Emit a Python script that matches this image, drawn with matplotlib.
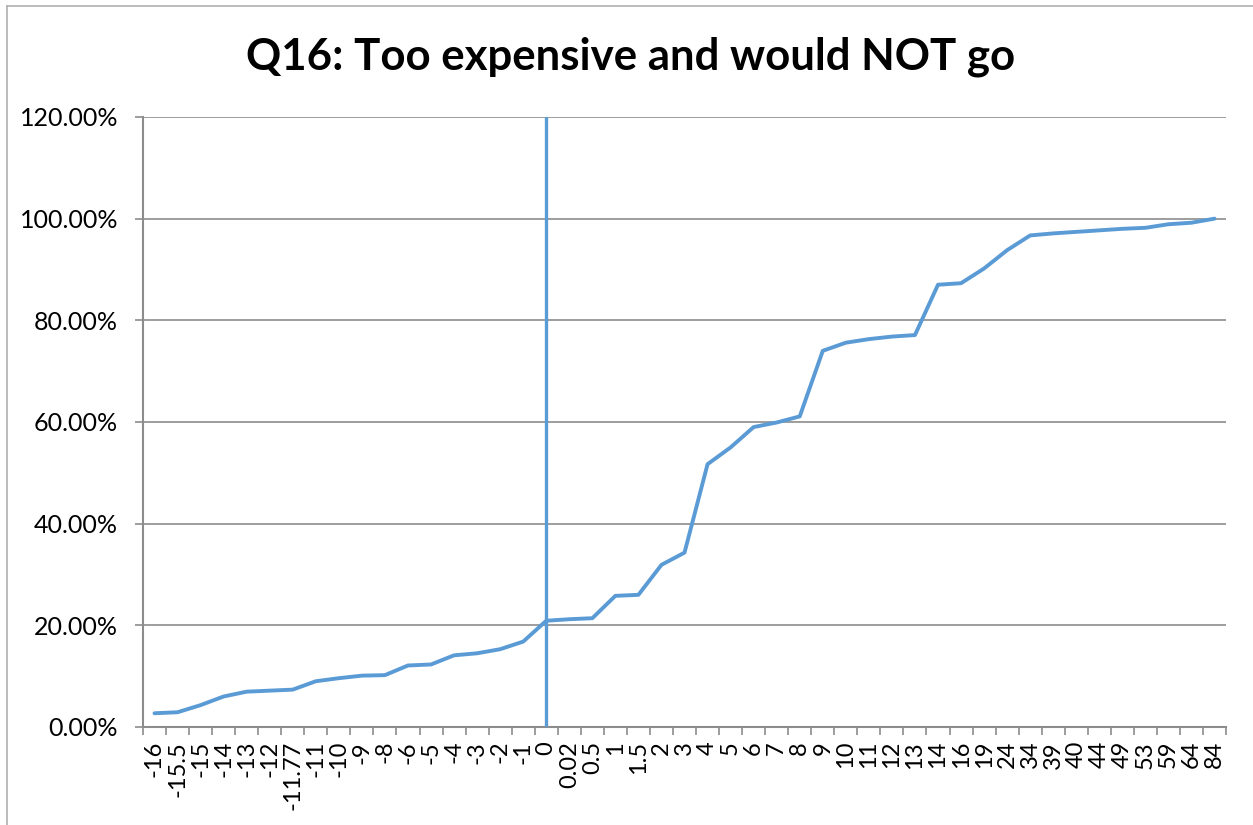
import matplotlib.pyplot as plt
import matplotlib.lines as mlines
import numpy as np
from matplotlib.ticker import FuncFormatter, MultipleLocator

categories = ['-16', '-15.5', '-15', '-14', '-13', '-12', '-11.77', '-11', '-10', '-9',
              '-8', '-6', '-5', '-4', '-3', '-2', '-1', '0', '0.02', '0.5',
              '1', '1.5', '2', '3', '4', '5', '6', '7', '8', '9',
              '10', '11', '12', '13', '14', '16', '19', '24', '34', '39',
              '40', '44', '49', '53', '59', '64', '84']
cum_pct = [2.7, 2.9, 4.3, 6.0, 6.95, 7.15, 7.35, 9.0, 9.6, 10.1,
           10.2, 12.1, 12.3, 14.1, 14.5, 15.3, 16.8, 20.9, 21.2, 21.4,
           25.8, 26.0, 31.9, 34.3, 51.7, 55.0, 59.0, 59.9, 61.1, 74.0,
           75.6, 76.3, 76.8, 77.1, 87.0, 87.3, 90.2, 93.8, 96.7, 97.1,
           97.4, 97.7, 98.0, 98.2, 98.9, 99.2, 100.0]
marker_cat = '0'

blue = '#5B9BD5'
grey = '#8c8c8c'

plt.rcParams['font.family'] = ['Lato', 'DejaVu Sans']

fig = plt.figure(figsize=(12.53, 8.25), dpi=100)
ax = fig.add_axes([0.1141, 0.1188, 0.8644, 0.7394])

x = np.arange(len(categories))
ax.plot(x, cum_pct, color=blue, lw=2.8, solid_capstyle='round', zorder=3)
ax.axvline(categories.index(marker_cat), color=blue, lw=2.4, zorder=3)

ax.set_xlim(-0.5, len(categories) - 0.5)
ax.set_ylim(0, 120)
ax.yaxis.set_major_locator(MultipleLocator(20))
ax.yaxis.set_major_formatter(FuncFormatter(lambda v, p: f'{v:.2f}%'))
ax.grid(axis='y', color=grey, lw=1.2, zorder=0)

ax.set_xticks(x)
ax.set_xticklabels(categories, rotation=90, fontsize=17)
ax.tick_params(axis='x', which='major', length=0, pad=10)
ax.set_xticks(np.arange(-0.5, len(categories)), minor=True)
ax.tick_params(axis='x', which='minor', length=6, color=grey, width=1.2)
ax.tick_params(axis='y', length=6, color=grey, width=1.2, labelsize=18, pad=12)

for s in ['top', 'right']:
    ax.spines[s].set_visible(False)
for s in ['left', 'bottom']:
    ax.spines[s].set_color(grey)
    ax.spines[s].set_linewidth(1.5)

fig.text(0.503, 0.931, 'Q16: Too expensive and would NOT go', ha='center', va='center',
         fontsize=31.5, fontweight='bold')

# chart frame
fig.add_artist(mlines.Line2D([7 / 1253, 1.0], [1 - 6 / 825, 1 - 6 / 825], color='#b0b0b0', lw=1.2))
fig.add_artist(mlines.Line2D([7 / 1253, 7 / 1253], [0, 1 - 6 / 825], color='#b0b0b0', lw=1.2))

fig.savefig('out.png', dpi=100)
